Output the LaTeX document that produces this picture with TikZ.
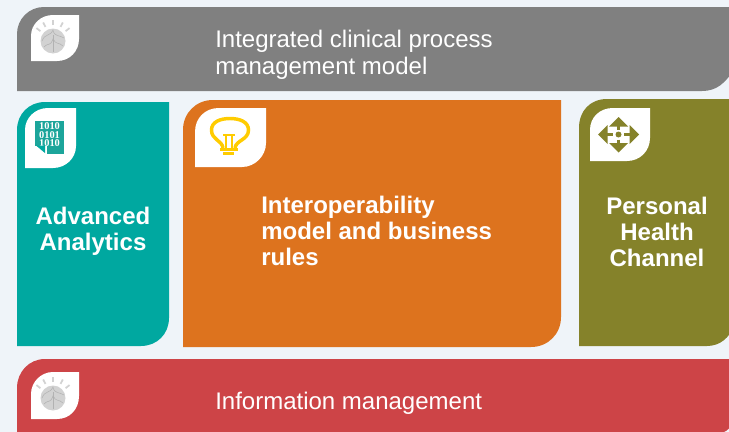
\documentclass[tikz,border=0pt]{standalone}
\usepackage{fontspec}
\usetikzlibrary{calc}
\setmainfont{Liberation Sans}
\newfontfamily\binaryfont{Liberation Serif}
\definecolor{pagebg}{RGB}{239,244,249}
\definecolor{panelgrey}{RGB}{128,128,128}
\definecolor{panelteal}{RGB}{0,168,160}
\definecolor{panelorange}{RGB}{221,115,30}
\definecolor{panelolive}{RGB}{133,130,42}
\definecolor{panelred}{RGB}{205,68,71}
\definecolor{bulbyellow}{RGB}{255,204,0}
\definecolor{braingrey}{RGB}{210,210,210}
\definecolor{binaryteal}{RGB}{28,165,155}
\tikzset{
  panellabel/.style={anchor=north west,inner sep=0pt,text=white,font=\fontsize{18pt}{20pt}\selectfont,align=left},
  paneltitle/.style={inner sep=0pt,text=white,font=\fontsize{18pt}{19.5pt}\selectfont\bfseries,align=center},
  leaf/.style={fill=white,draw=none},
  ray/.style={braingrey,line width=1.3pt},
  brainline/.style={gray!60,line width=0.4pt},
}
\begin{document}
\begin{tikzpicture}[x=0.75pt,y=0.75pt,yscale=-1,xscale=1]
        \useasboundingbox (0,0) rectangle (729,432);
        \fill[pagebg] (0,0) rectangle (729,432);

        %Shape: Grey panel
        \fill[panelgrey] (17,91) -- (17,34) .. controls (17,19) and (29,7) .. (44,7) -- (735,7) -- (735,68) .. controls (725,84) and (716,91) .. (702,91) -- cycle ;
        %Shape: Teal panel
        \fill[panelteal] (17,346) -- (17,130) .. controls (17,114) and (29,102) .. (45,102) -- (169,102) -- (169,318) .. controls (169,334) and (157,346) .. (141,346) -- cycle ;
        %Shape: Orange panel
        \fill[panelorange] (183,347) -- (183,130) .. controls (183,113) and (196,100) .. (213,100) -- (561,100) -- (561,317) .. controls (561,334) and (548,347) .. (531,347) -- cycle ;
        %Shape: Olive panel
        \fill[panelolive] (579,346) -- (579,128) .. controls (579,111) and (590,99) .. (607,99) -- (735,99) -- (735,325) .. controls (729,338) and (720,346) .. (707,346) -- cycle ;
        %Shape: Red panel
        \fill[panelred] (17,432) -- (17,388) .. controls (17,372) and (29,359) .. (45,359) -- (735,359) -- (735,410) .. controls (734,424) and (729,432) .. (720,433) -- cycle ;

        %Shape: Leaf grey
        \fill[leaf] (31,61) -- (31,36) .. controls (31,24) and (41,15) .. (53,15) -- (79,15) -- (79,39) .. controls (79,51) and (70,61) .. (57,61) -- cycle ;
        %Shape: Leaf teal
        \fill[leaf] (25,168) -- (25,130) .. controls (25,118) and (35,108) .. (48,108) -- (76,108) -- (76,146) .. controls (76,158) and (66,168) .. (53,168) -- cycle ;
        %Shape: Leaf orange
        \fill[leaf] (195,167) -- (195,132) .. controls (195,118) and (205,108) .. (219,108) -- (266,108) -- (266,143) .. controls (266,156) and (255,167) .. (242,167) -- cycle ;
        %Shape: Leaf olive
        \fill[leaf] (590,161) -- (590,130) .. controls (590,117) and (600,108) .. (613,108) -- (650,108) -- (650,138) .. controls (650,151) and (640,161) .. (627,161) -- cycle ;
        %Shape: Leaf red
        \fill[leaf] (31,419) -- (31,394) .. controls (31,382) and (41,372) .. (53,372) -- (79,372) -- (79,396) .. controls (79,409) and (70,419) .. (57,419) -- cycle ;

        %Brain icons
        \foreach \cy in {41,398} {
          \fill[braingrey] (53,\cy) circle (12.5);
          \draw[brainline] (42,\cy) .. controls (45,\cy-8) and (50,\cy-4) .. (53,\cy-11) .. controls (54,\cy-4) and (60,\cy-6) .. (64,\cy-3) ;
          \draw[brainline] (44,\cy+6) .. controls (49,\cy+1) and (50,\cy+6) .. (53,\cy-2) .. controls (56,\cy+4) and (59,\cy+1) .. (63,\cy+5) ;
          \draw[brainline] (53,\cy-6) -- (53,\cy+11) ;
          \foreach \a in {-52,-28,0,28,52} {
            \draw[ray] ($(53,\cy)+(\a-90:16)$) -- ($(53,\cy)+(\a-90:21)$);
          }
        }

        %Binary icon
        \fill[binaryteal] (35,121) rectangle (64,154);
        \node[inner sep=0pt,text=white,font=\fontsize{7.8pt}{6.4pt}\selectfont\bfseries\binaryfont,align=center] (binary) at (49.5,135) {1010\\0101\\1010};
        \fill[white] (35,145.5) rectangle (47,155) ;
        \fill[panelteal] (36,145.5) -- (45,145.5) -- (45,153) -- cycle ;

        %Bulb icon
        \draw[bulbyellow,line width=2.6pt] (223,148) .. controls (222,140) and (211.5,140) .. (211.5,130) .. controls (211.5,122) and (220,118.5) .. (230,118.5) .. controls (240,118.5) and (248.5,122) .. (248.5,130) .. controls (248.5,140) and (236,140) .. (235,148) ;
        \draw[bulbyellow,line width=1.5pt] (226,148) -- (226,135) (232,148) -- (232,135) (223,134.5) -- (235,134.5) ;
        \fill[bulbyellow] (220,148) rectangle (238,151) ;
        \fill[bulbyellow] (223,152) rectangle (234,154.5) ;

        %Move icon
        \fill[panelolive] (618.5,117) -- (628,126.5) -- (609,126.5) -- cycle ;
        \fill[panelolive] (618.5,152.5) -- (628,143) -- (609,143) -- cycle ;
        \fill[panelolive] (598,134.5) -- (607.5,125) -- (607.5,144) -- cycle ;
        \fill[panelolive] (639,134.5) -- (629.5,125) -- (629.5,144) -- cycle ;
        \fill[panelolive] (618.5,134.5) circle (3) ;
        \draw[panelolive,line width=2pt] (618.5,126) -- (618.5,129.5) (618.5,139.5) -- (618.5,143) (607,134.5) -- (613,134.5) (624,134.5) -- (630,134.5) ;

        % Text Node
        \node[panellabel] (processlabel) at (215,30) {Integrated clinical process\\management model};
        % Text Node
        \node[paneltitle] (analyticslabel) at (93,231) {Advanced\\Analytics};
        % Text Node
        \node[paneltitle,anchor=north west,align=left] (interoplabel) at (261,196) {Interoperability\\model and business\\rules};
        % Text Node
        \node[paneltitle] (channellabel) at (657,232) {Personal\\Health\\Channel};
        % Text Node
        \node[panellabel] (infolabel) at (215,392) {Information management};
\end{tikzpicture}
\end{document}
